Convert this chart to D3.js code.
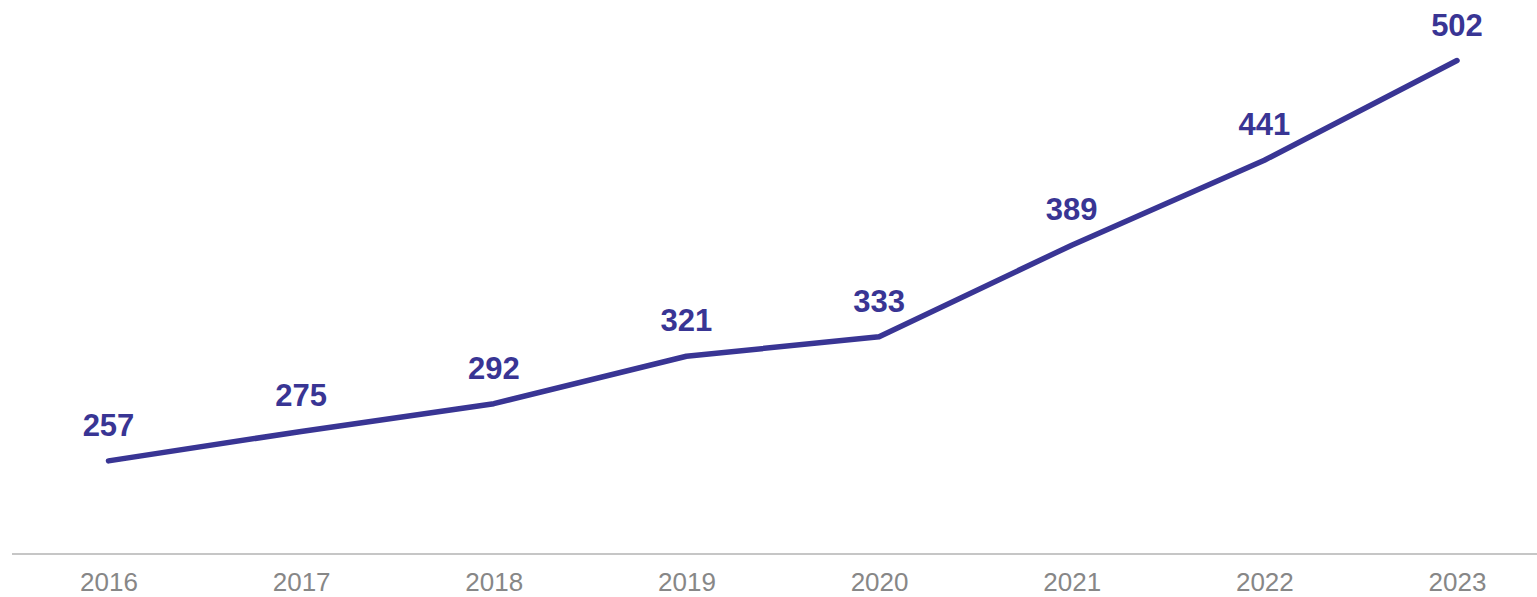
<!DOCTYPE html>
<html>
<head>
<meta charset="utf-8">
<script src="https://cdn.jsdelivr.net/npm/d3@7/dist/d3.min.js"></script>
<style>
html,body{margin:0;padding:0;background:#fff;}
svg{display:block;}
</style>
</head>
<body>
<svg id="chart" width="1537" height="597"></svg>
<script>
const years = ["2016","2017","2018","2019","2020","2021","2022","2023"];
const values = [257, 275, 292, 321, 333, 389, 441, 502];

const svg = d3.select("#chart");
const x = d3.scalePoint().domain(years).range([108.5, 1457]);
const y = d3.scaleLinear().domain([200, 500]).range([554, 63.8]);

// axis baseline
svg.append("line")
  .attr("x1", 12).attr("x2", 1537)
  .attr("y1", y(200)).attr("y2", y(200))
  .attr("stroke", "#c6c6c6").attr("stroke-width", 2);

// year labels
const xAxis = d3.axisBottom(x).tickSize(0).tickPadding(0);
const gx = svg.append("g").attr("transform", `translate(0,${y(200)})`).call(xAxis);
gx.select(".domain").remove();
gx.selectAll("text")
  .attr("dy", null)
  .attr("y", 37)
  .attr("fill", "#878787")
  .style("font-family", "'Liberation Sans', Arial, sans-serif")
  .style("font-size", "26px");

const data = years.map((yr, i) => ({yr, v: values[i]}));

svg.append("path")
  .datum(data)
  .attr("fill", "none")
  .attr("stroke", "#393594")
  .attr("stroke-width", 5.5)
  .attr("stroke-linecap", "round")
  .attr("stroke-linejoin", "round")
  .attr("d", d3.line().x(d => x(d.yr)).y(d => y(d.v)));

svg.selectAll(".vlab")
  .data(data)
  .enter().append("text")
  .attr("class", "vlab")
  .attr("x", d => x(d.yr))
  .attr("y", d => y(d.v) - 25)
  .attr("text-anchor", "middle")
  .attr("fill", "#393594")
  .style("font-family", "'Liberation Sans', Arial, sans-serif")
  .style("font-weight", "bold")
  .style("font-size", "31px")
  .text(d => d.v);
</script>
</body>
</html>
